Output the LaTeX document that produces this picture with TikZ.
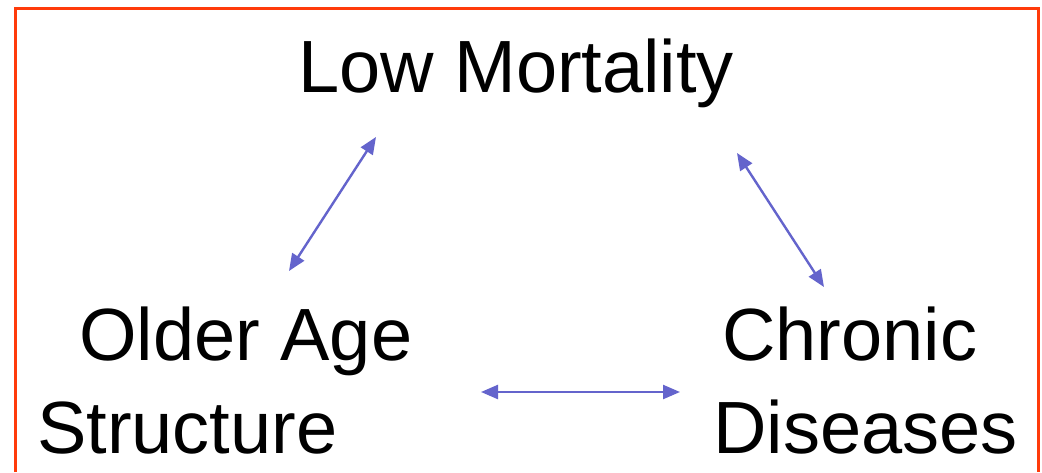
\documentclass[tikz,border=0pt]{standalone}
\usepackage{fontspec}
\setmainfont{Liberation Sans}
\usetikzlibrary{arrows.meta}
\definecolor{frame}{HTML}{FF3B0A}
\definecolor{link}{HTML}{6464CC}
\tikzset{
  label/.style={inner sep=0pt, anchor=base west, font=\fontsize{74}{80}\selectfont},
  link/.style={draw=link, line width=2.4pt, {Triangle[length=17pt,width=14pt]}-{Triangle[length=17pt,width=14pt]}, fill=link},
}
\begin{document}
\begin{tikzpicture}[x=1pt,y=-1pt]
\useasboundingbox (0,0) rectangle (1042,472);
\fill[white] (0,0) rectangle (1042,472);
\draw[frame, line width=3pt] (15,472) -- (15,8) -- (1038,8) -- (1038,472);
\node[label] (low) at (298,92) {Low Mortality};
\node[label] (older) at (79,360) {Older Age};
\node[label] (struct) at (37,453) {Structure};
\node[label] (chronic) at (722,360) {Chronic};
\node[label] (diseases) at (713,453) {Diseases};
\coordinate (a1) at (289,271);
\coordinate (a2) at (376,137);
\coordinate (b1) at (737,153);
\coordinate (b2) at (824,287);
\coordinate (c1) at (481,392);
\coordinate (c2) at (680,392);
\draw[link] (a1) -- (a2);
\draw[link] (b1) -- (b2);
\draw[link] (c1) -- (c2);
\end{tikzpicture}
\end{document}
